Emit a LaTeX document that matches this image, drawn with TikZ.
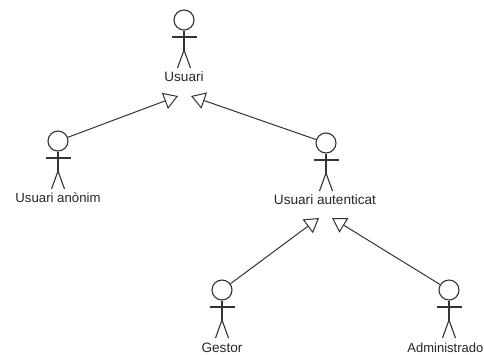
\documentclass[tikz,border=0pt]{standalone}
\usepackage{fontspec}
\setmainfont{Liberation Sans}
\usetikzlibrary{arrows.meta}
\tikzset{
  x=1bp,y=-1bp,
  limb/.style={draw=black!80,line width=1.1bp},
  headcircle/.style={circle,draw=black!80,line width=1.1bp,minimum size=20bp,inner sep=0pt},
  actorlabel/.style={font=\fontsize{13.6bp}{15bp}\selectfont,text=black!85,inner sep=0pt},
  generalization/.style={draw=black!80,line width=1bp,-{Triangle[open,length=14bp,width=17bp,line width=1bp]}},
  actor/.pic={
    \node[headcircle] (-head) at (0,0) {};
    \draw[limb] (-head.south) -- (0,30);
    \draw[limb] (-12.5,17) -- (12.5,17);
    \draw[limb] (-6.5,48) -- (0,30) -- (6.5,48);
  }
}
\begin{document}
\begin{tikzpicture}
\useasboundingbox (0,0) rectangle (484,354);
\pic (usuari) at (184,20) {actor};
\pic (anon) at (58,141) {actor};
\pic (auth) at (326,143) {actor};
\pic (gestor) at (222,290) {actor};
\pic (admin) at (449,290) {actor};
\node[actorlabel] (usuarilabel) at (184,77) {Usuari};
\node[actorlabel,font=\fontsize{13.2bp}{15bp}\selectfont] (anonlabel) at (58,198) {Usuari anònim};
\node[actorlabel] (authlabel) at (325,200) {Usuari autenticat};
\node[actorlabel] (gestorlabel) at (222,348) {Gestor};
\node[actorlabel,font=\fontsize{13bp}{15bp}\selectfont,anchor=east] (adminlabel) at (483.5,348) {Administrado};
\coordinate (tipA) at (178,96);
\coordinate (tipB) at (191,96);
\coordinate (tipC) at (319,218);
\coordinate (tipD) at (332,218);
\draw[generalization] (anon-head) -- (tipA);
\draw[generalization] (auth-head) -- (tipB);
\draw[generalization] (gestor-head) -- (tipC);
\draw[generalization] (admin-head) -- (tipD);
\end{tikzpicture}
\end{document}
